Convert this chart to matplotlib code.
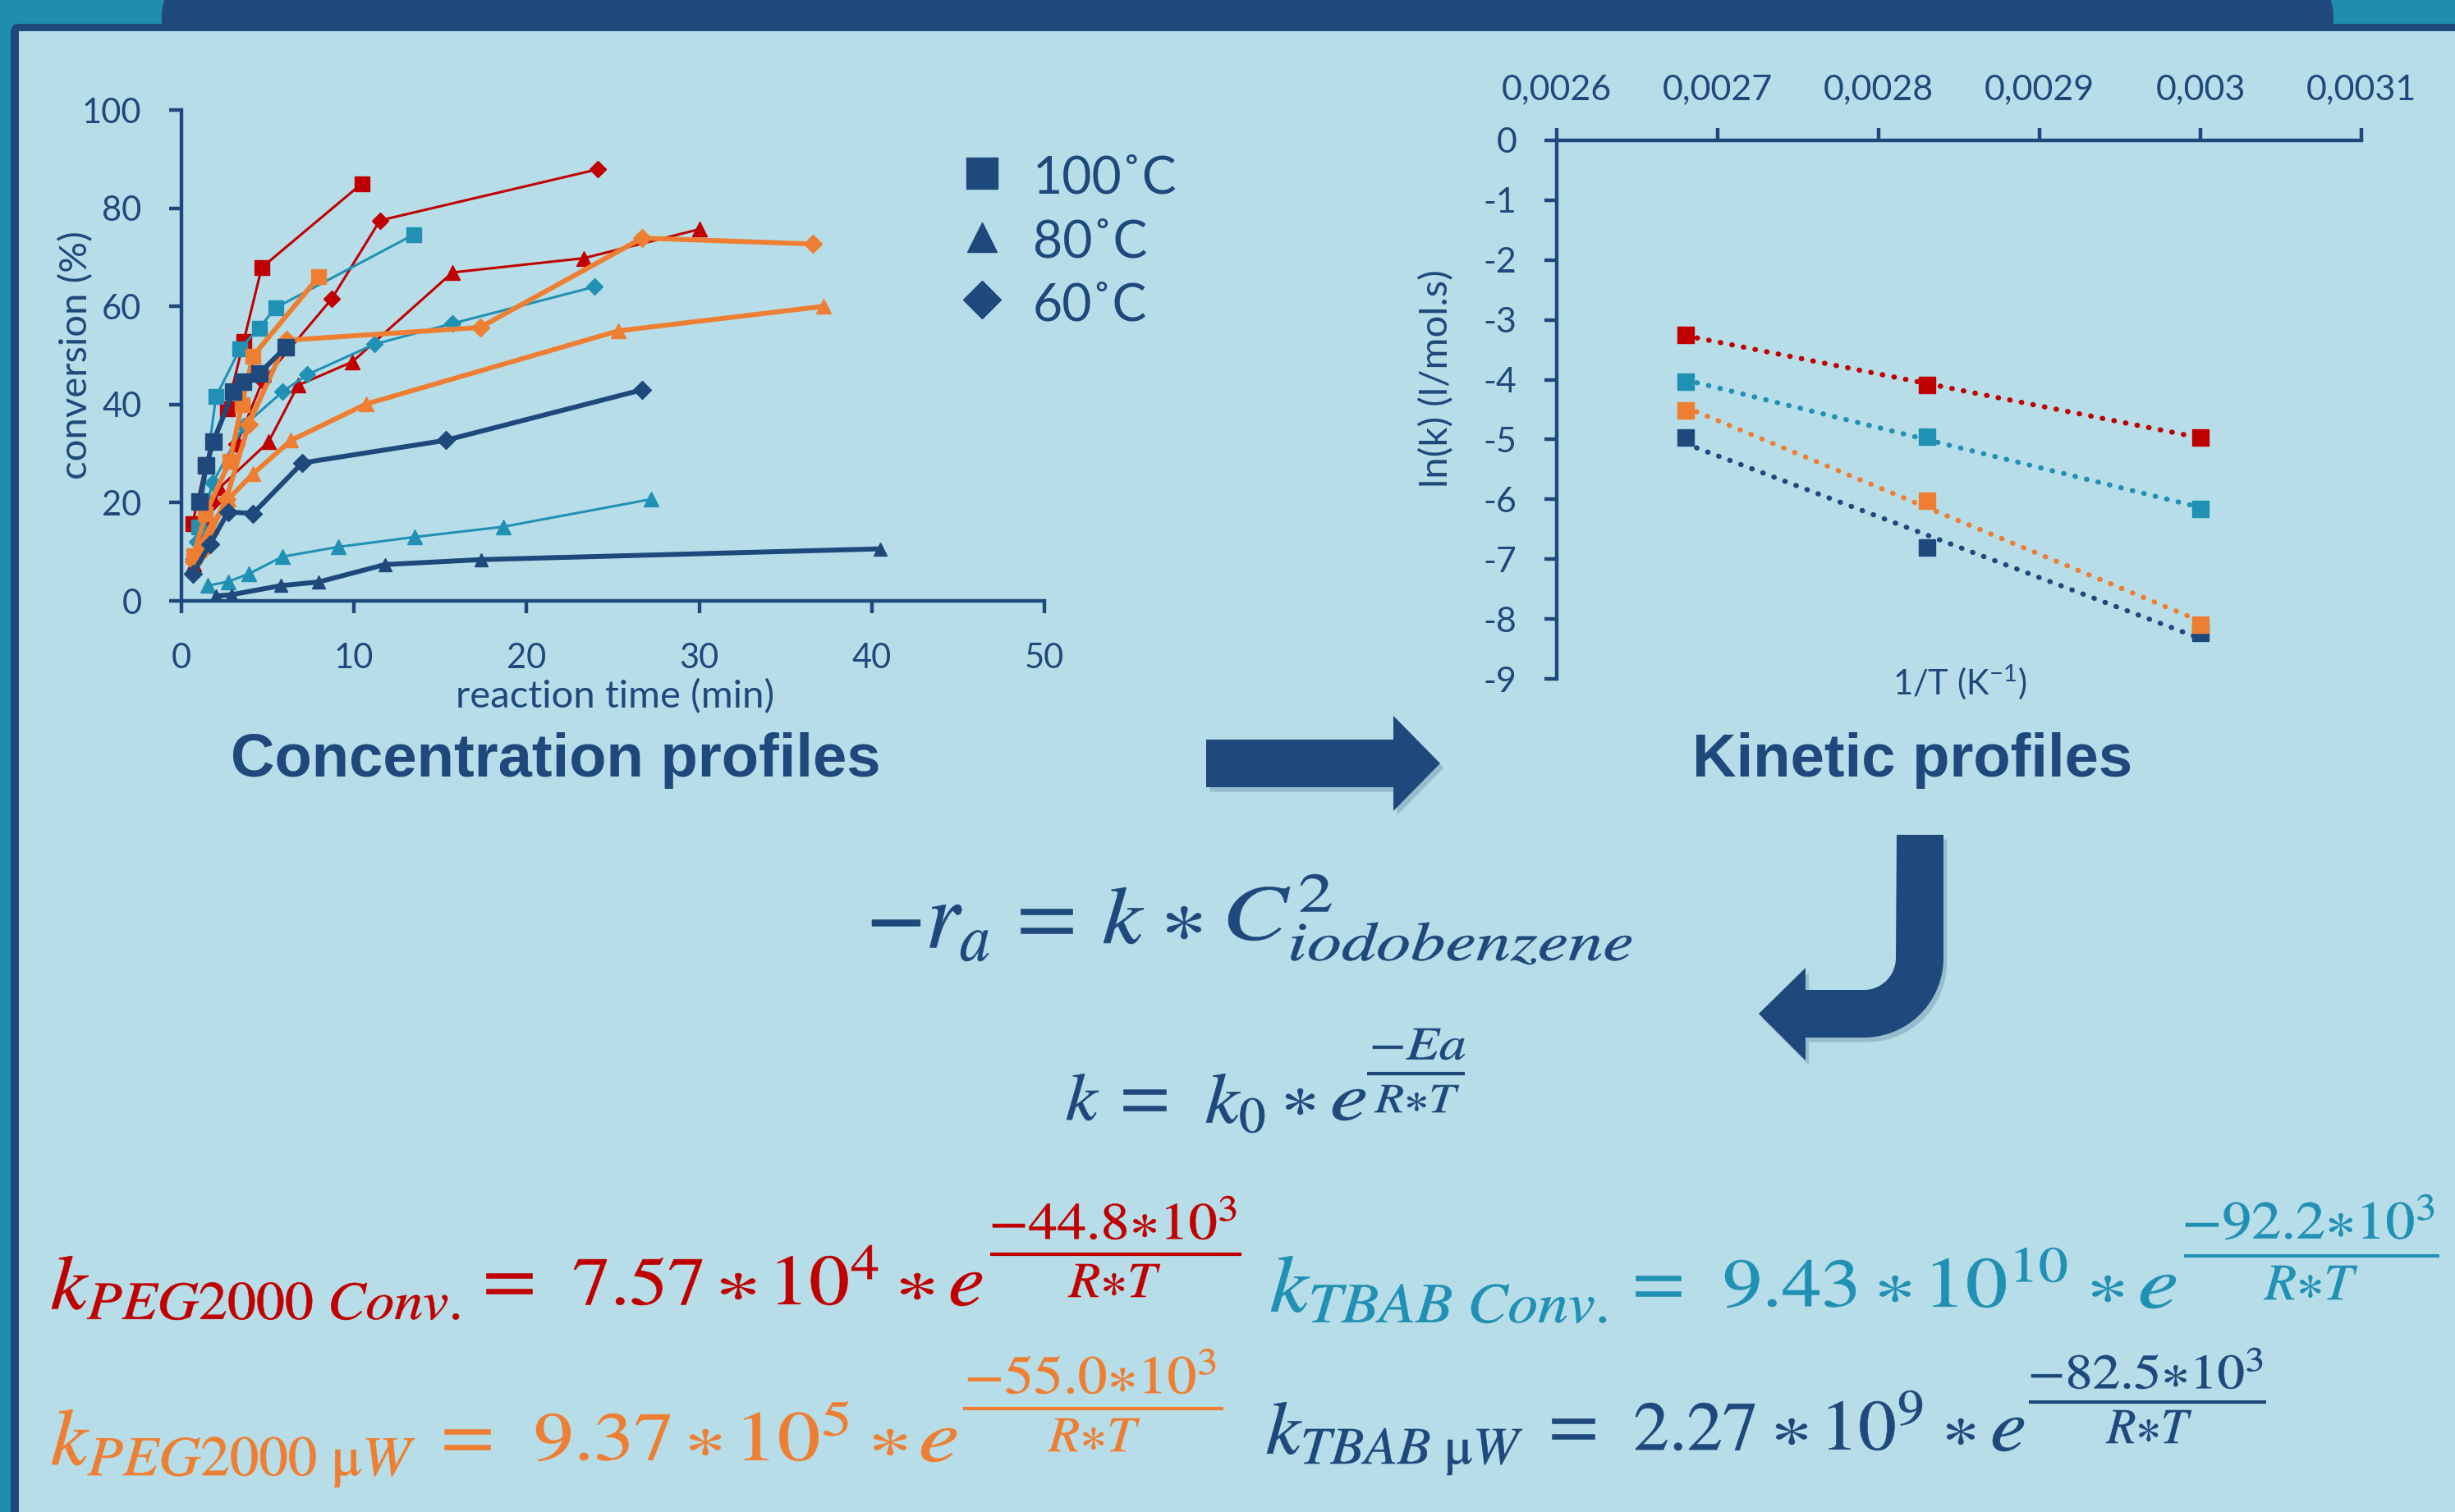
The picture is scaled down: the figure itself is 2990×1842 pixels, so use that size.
import numpy as np
import matplotlib.pyplot as plt
from matplotlib.patches import Polygon, Rectangle, FancyBboxPatch, PathPatch
from matplotlib.textpath import TextPath
from matplotlib.font_manager import FontProperties
from matplotlib.transforms import Affine2D
from matplotlib.path import Path
import matplotlib.patheffects as pe

plt.rcParams['font.family'] = ['Lato', 'DejaVu Sans']
plt.rcParams['axes.unicode_minus'] = False

# colours
NAVY = '#1F497D'
RED = '#C00000'
ORANGE = '#EE7F32'
TEAL = '#2190B5'
FRAME_TEAL = '#1F8CB0'
LIGHT = '#B7DEE8'

# ---- concentration profiles: reaction time (min) vs conversion (%) ----
# PEG2000, conventional heating (red)
peg_conv_100_t = [0.65, 1.4, 2.65, 3.6, 4.65, 10.45]
peg_conv_100_c = [15.8, 27.8, 39.2, 52.8, 67.9, 85.0]
peg_conv_80_t = [0.7, 1.5, 2.2, 5.05, 6.75, 9.9, 15.7, 23.3, 30.0]
peg_conv_80_c = [7.5, 15, 23, 32.4, 43.9, 48.7, 66.9, 69.8, 75.7]
peg_conv_60_t = [0.7, 1.8, 3.2, 4.7, 8.7, 11.5, 24.1]
peg_conv_60_c = [8.5, 20, 32, 44.8, 61.5, 77.5, 87.9]
# TBAB, conventional heating (teal)
tbab_conv_100_t = [1.0, 2.0, 3.4, 4.5, 5.45, 13.45]
tbab_conv_100_c = [15, 41.6, 51.4, 55.6, 59.7, 74.6]
tbab_conv_80_t = [1.5, 2.7, 3.9, 5.85, 9.1, 13.5, 18.65, 27.2]
tbab_conv_80_c = [3.1, 3.9, 5.5, 9.0, 11.0, 13.0, 15.1, 20.7]
tbab_conv_60_t = [0.9, 1.8, 3.6, 5.85, 7.3, 11.2, 15.7, 23.95]
tbab_conv_60_c = [12, 24, 35.6, 42.6, 46.1, 52.3, 56.5, 64.0]
# PEG2000, microwave (orange)
peg_mw_100_t = [0.7, 1.4, 2.8, 3.5, 4.15, 7.95]
peg_mw_100_c = [9.2, 17.8, 28.5, 40.0, 49.9, 66.0]
peg_mw_80_t = [0.7, 1.7, 2.7, 4.15, 6.35, 10.7, 25.3, 37.2]
peg_mw_80_c = [9, 15, 20.7, 25.9, 32.7, 40.1, 55.0, 60.0]
peg_mw_60_t = [0.7, 1.2, 2.6, 3.9, 6.1, 17.3, 26.7, 36.6]
peg_mw_60_c = [8, 10, 20.8, 36.0, 53.1, 55.7, 73.9, 72.7]
# TBAB, microwave (navy)
tbab_mw_100_t = [1.05, 1.45, 1.85, 3.0, 3.55, 4.5, 6.05]
tbab_mw_100_c = [20.3, 27.6, 32.5, 42.6, 44.7, 46.3, 51.7]
tbab_mw_80_t = [2.0, 2.9, 5.75, 7.95, 11.8, 17.35, 40.5]
tbab_mw_80_c = [1.0, 1.25, 3.1, 3.85, 7.4, 8.4, 10.6]
tbab_mw_60_t = [0.65, 1.65, 2.7, 4.15, 7.0, 15.3, 26.7]
tbab_mw_60_c = [5.5, 11.5, 18.1, 17.8, 28.1, 32.7, 43.0]

legend_labels = ['100˚C', '80˚C', '60˚C']
legend_markers = ['s', '^', 'D']

# ---- kinetic profiles: 1/T vs ln(k) ----
inv_T = [0.00268, 0.00283, 0.00300]
lnk_peg_conv = [-3.25, -4.09, -4.96]
lnk_tbab_conv = [-4.03, -4.95, -6.16]
lnk_peg_mw = [-4.52, -6.02, -8.09]
lnk_tbab_mw = [-4.96, -6.80, -8.23]
inv_T_ticks = [0.0026, 0.0027, 0.0028, 0.0029, 0.0030, 0.0031]
inv_T_labels = ['0,0026', '0,0027', '0,0028', '0,0029', '0,003', '0,0031']

# ---- Arrhenius parameters ----
eq_names = [r'PEG2000\ Conv.', r'TBAB\ Conv.', r'PEG2000\ \mathrm{\mu}W', r'TBAB\ \mathrm{\mu}W']
eq_k0 = ['7.57', '9.43', '9.37', '2.27']
eq_k0_exp = ['4', '10', '5', '9']
eq_Ea = ['44.8', '92.2', '55.0', '82.5']
eq_colors = [RED, TEAL, ORANGE, NAVY]

W, H = 2990, 1842
fig = plt.figure(figsize=(W / 100, H / 100), dpi=100)
fig.patch.set_facecolor(FRAME_TEAL)


def box(x0, y0, x1, y1):
    # pixel box (y down) -> figure fraction rect
    return [x0 / W, 1 - y1 / H, (x1 - x0) / W, (y1 - y0) / H]


bg = fig.add_axes([0, 0, 1, 1])
bg.set_xlim(0, W)
bg.set_ylim(H, 0)
bg.axis('off')

MATH_FP = FontProperties(family='STIXGeneral', math_fontfamily='stix')


def fit_text(s, x0, y0, x1, y1, color):
    # draw math text stretched into the pixel box (x0, y0)-(x1, y1)
    tp = TextPath((0, 0), s, size=100, prop=MATH_FP)
    keep = tp.codes != Path.CLOSEPOLY
    v = tp.vertices[keep]
    ex0, ey0 = v.min(axis=0)
    ex1, ey1 = v.max(axis=0)
    tr = (Affine2D().translate(-ex0, -ey1)
          .scale((x1 - x0) / (ex1 - ex0), -(y1 - y0) / (ey1 - ey0)).translate(x0, y0))
    bg.add_patch(PathPatch(tr.transform_path(tp), fc=color, ec=color, lw=0.4))


# frame
bg.add_patch(FancyBboxPatch((197, -20), 2645, 120, boxstyle='round,pad=0,rounding_size=40',
                            fc=NAVY, ec='none'))
bg.add_patch(FancyBboxPatch((13, 29), 3100, 1900, boxstyle='round,pad=0,rounding_size=10',
                            fc=NAVY, ec='none'))
bg.add_patch(Rectangle((23, 38), 3000, 1900, fc=LIGHT, ec='none'))

shadow = [pe.withSimplePatchShadow(offset=(3, -4), shadow_rgbFace='#6f95a8', alpha=0.45)]

# straight arrow
bg.add_patch(Polygon([(1469, 901), (1697, 901), (1697, 872), (1754, 930), (1697, 988),
                      (1697, 959), (1469, 959)], closed=True, fc=NAVY, ec='none',
                     path_effects=shadow))

# bent arrow
cx, cy = 2270, 1167
a = np.linspace(0, np.pi / 2, 30)
outer = [(cx + 97 * np.cos(t), cy + 97 * np.sin(t)) for t in a]
inner = [(cx + 39 * np.sin(t), cy + 39 * np.cos(t)) for t in a]
pts = [(2310, 1017), (2367, 1017)] + outer + [(2199, 1264), (2199, 1292), (2142, 1235),
                                               (2199, 1179), (2199, 1206)] + inner
bg.add_patch(Polygon(pts, closed=True, fc=NAVY, ec='none', path_effects=shadow))

# ---------------- left chart ----------------
ax1 = fig.add_axes(box(221, 134, 1272, 732))
ax1.set_facecolor('none')

series = [
    (peg_conv_100_t, peg_conv_100_c, RED, 's', 2.2, 13),
    (peg_conv_80_t, peg_conv_80_c, RED, '^', 2.2, 13),
    (peg_conv_60_t, peg_conv_60_c, RED, 'D', 2.2, 10),
    (tbab_conv_100_t, tbab_conv_100_c, TEAL, 's', 2.2, 13),
    (tbab_conv_80_t, tbab_conv_80_c, TEAL, '^', 2.2, 13),
    (tbab_conv_60_t, tbab_conv_60_c, TEAL, 'D', 2.2, 10),
    (peg_mw_100_t, peg_mw_100_c, ORANGE, 's', 4.3, 13),
    (peg_mw_80_t, peg_mw_80_c, ORANGE, '^', 4.3, 13),
    (peg_mw_60_t, peg_mw_60_c, ORANGE, 'D', 4.3, 11),
    (tbab_mw_100_t, tbab_mw_100_c, NAVY, 's', 4.3, 15),
    (tbab_mw_80_t, tbab_mw_80_c, NAVY, '^', 4.3, 12),
    (tbab_mw_60_t, tbab_mw_60_c, NAVY, 'D', 4.3, 11),
]
for t, c, col, m, lw, ms in series:
    ax1.plot(t, c, color=col, marker=m, lw=lw, ms=ms, mec=col, mfc=col)

ax1.set_xlim(0, 50)
ax1.set_ylim(0, 100)
ax1.set_xticks(range(0, 51, 10))
ax1.set_yticks(range(0, 101, 20))
for s in ['top', 'right']:
    ax1.spines[s].set_visible(False)
for s in ['left', 'bottom']:
    ax1.spines[s].set_color(NAVY)
    ax1.spines[s].set_linewidth(3.2)
ax1.tick_params(direction='out', length=11, width=3.2, color=NAVY, labelsize=30,
                labelcolor=NAVY)
ax1.tick_params(axis='y', pad=24)
ax1.tick_params(axis='x', pad=26)

bg.text(93, 433, 'conversion (%)', rotation=90, ha='center', va='center', fontsize=34,
        color=NAVY)
bg.text(749, 849, 'reaction time (min)', ha='center', va='center', fontsize=34, color=NAVY)

legend_y = [211, 289, 365]
legend_base = [235, 313, 390]
legend_ms = [27, 26, 23]
for lab, m, y, yb, ms in zip(legend_labels, legend_markers, legend_y, legend_base, legend_ms):
    bg.plot([1196], [y], marker=m, ms=ms, color=NAVY, ls='none')
    bg.text(1258, yb, lab, fontsize=45, color=NAVY, ha='left', va='baseline')

# ---------------- right chart ----------------
ax2 = fig.add_axes(box(1896, 171, 2876, 827))
ax2.set_facecolor('none')
for lnk, col in [(lnk_tbab_mw, NAVY), (lnk_peg_mw, ORANGE), (lnk_tbab_conv, TEAL),
                 (lnk_peg_conv, RED)]:
    fit = np.polyfit(inv_T, lnk, 1)
    xs = np.array([inv_T[0], inv_T[-1]])
    ax2.plot(xs, np.polyval(fit, xs), color=col, lw=4.5, ls=(0, (0.1, 2.2)),
             dash_capstyle='round')
    ax2.plot(inv_T, lnk, ls='none', marker='s', ms=14, color=col)

ax2.set_xlim(0.0026, 0.0031)
ax2.set_ylim(-9, 0)
ax2.set_xticks(inv_T_ticks)
ax2.set_xticklabels(inv_T_labels)
ax2.set_yticks(range(-9, 1))
ax2.xaxis.tick_top()
for s in ['bottom', 'right']:
    ax2.spines[s].set_visible(False)
for s in ['left', 'top']:
    ax2.spines[s].set_color(NAVY)
    ax2.spines[s].set_linewidth(3.2)
ax2.tick_params(direction='out', length=11, width=3.2, color=NAVY, labelsize=31,
                labelcolor=NAVY)
ax2.tick_params(axis='y', pad=24)
ax2.tick_params(axis='x', pad=20)

bg.text(1750, 461, 'ln(k) (l/mol.s)', rotation=90, ha='center', va='center', fontsize=34,
        color=NAVY)
bg.text(2387, 831, '1/T (K$^{\\mathregular{-1}}$)', ha='center', va='center', fontsize=30,
        color=NAVY)

# titles
bg.text(677, 926, 'Concentration profiles', ha='center', va='center', fontsize=53.5,
        fontweight='bold', family='Liberation Sans', color=NAVY)
bg.text(2329, 926, 'Kinetic profiles', ha='center', va='center', fontsize=53.5,
        fontweight='bold', family='Liberation Sans', color=NAVY)

# rate law
fit_text(r'$-r_a$', 1062, 1102, 1204, 1171, NAVY)
fit_text(r'$=$', 1243, 1107, 1306, 1137, NAVY)
fit_text(r'$k$', 1344, 1081, 1393, 1150, NAVY)
fit_text(r'$\ast$', 1421, 1104, 1463, 1144, NAVY)
fit_text(r'$C_{iodobenzene}^{2}$', 1496, 1065, 1987, 1175, NAVY)

# Arrhenius law
fit_text(r'$k$', 1299, 1308, 1338, 1365, NAVY)
fit_text(r'$=$', 1368, 1327, 1420, 1353, NAVY)
fit_text(r'$k_0$', 1469, 1308, 1540, 1380, NAVY)
fit_text(r'$\ast$', 1566, 1326, 1601, 1358, NAVY)
fit_text(r'$e$', 1623, 1327, 1663, 1365, NAVY)
fit_text(r'$-Ea$', 1672, 1253, 1784, 1291, NAVY)
bg.plot([1665, 1784], [1308, 1308], color=NAVY, lw=3, solid_capstyle='butt')
fit_text(r'$R{\ast}T$', 1674, 1322, 1777, 1355, NAVY)

# fitted Arrhenius equations: pixel layout of each piece
eq_layout = [
    dict(b=1590, k=(63, 559, 1530, 1608), eq=(592, 648), num=(699, 855), a1=(880, 918),
         ten=(947, 1069), a2=(1099, 1135), e=(1158, 1196), line=(1206, 1512, 1528),
         top=(1209, 1505, 1457, 1510), den=(1301, 1413, 1540, 1580)),
    dict(b=1593, k=(1548, 1956, 1530, 1612), eq=(1992, 2047), num=(2101, 2260),
         a1=(2291, 2325), ten=(2354, 2517), a2=(2550, 2584), e=(2607, 2650),
         line=(2660, 2971, 1530), top=(2662, 2964, 1455, 1510), den=(2757, 2871, 1542, 1583)),
    dict(b=1780, k=(63, 505, 1717, 1812), eq=(541, 597), num=(653, 816), a1=(842, 876),
         ten=(906, 1033), a2=(1066, 1102), e=(1122, 1165), line=(1173, 1490, 1716),
         top=(1179, 1480, 1643, 1698), den=(1276, 1388, 1728, 1768)),
    dict(b=1767, k=(1543, 1854, 1708, 1797), eq=(1890, 1942), num=(1992, 2137),
         a1=(2165, 2199), ten=(2227, 2341), a2=(2373, 2403), e=(2427, 2465),
         line=(2471, 2760, 1708), top=(2474, 2755, 1642, 1692), den=(2565, 2669, 1718, 1758)),
]
for name, k0, k0e, ea, col, L in zip(eq_names, eq_k0, eq_k0_exp, eq_Ea, eq_colors, eq_layout):
    b = L['b']
    fit_text(r'$k_{%s}$' % name, L['k'][0], L['k'][2], L['k'][1], L['k'][3], col)
    fit_text(r'$=$', L['eq'][0], b - 39, L['eq'][1], b - 14, col)
    fit_text(r'$%s$' % k0, L['num'][0], b - 58, L['num'][1], b, col)
    fit_text(r'$\ast$', L['a1'][0] - 2, b - 39, L['a1'][1] + 2, b - 7, col)
    fit_text(r'$10^{%s}$' % k0e, L['ten'][0], b - 73, L['ten'][1], b, col)
    fit_text(r'$\ast$', L['a2'][0] - 2, b - 39, L['a2'][1] + 2, b - 7, col)
    fit_text(r'$e$', L['e'][0], b - 40, L['e'][1], b + 1, col)
    lx0, lx1, ly = L['line']
    bg.plot([lx0, lx1], [ly, ly], color=col, lw=3, solid_capstyle='butt')
    tx0, tx1, ty0, ty1 = L['top']
    fit_text(r'$-%s{\ast}10^{3}$' % ea, tx0, ty0, tx1, ty1, col)
    dx0, dx1, dy0, dy1 = L['den']
    fit_text(r'$R{\ast}T$', dx0, dy0, dx1, dy1, col)

fig.savefig('out.png', dpi=100, facecolor=fig.get_facecolor())
